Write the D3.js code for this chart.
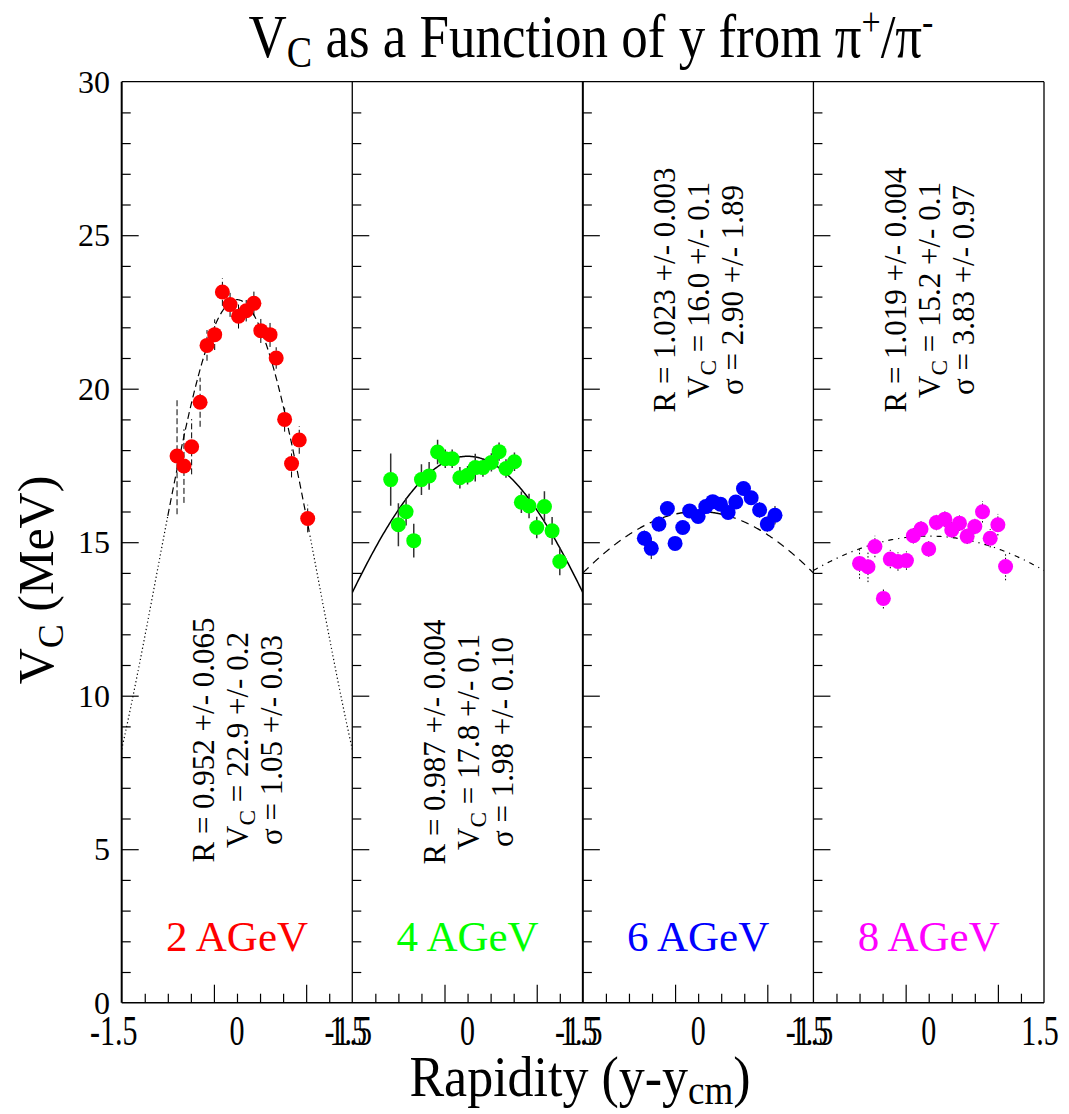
<!DOCTYPE html>
<html>
<head>
<meta charset="utf-8">
<script src="https://cdn.jsdelivr.net/npm/d3@7"></script>
<style>
  html, body { margin: 0; padding: 0; background: #fff; }
  svg { display: block; }
  text { font-family: "Liberation Serif", "Times New Roman", Times, serif; fill: #000; }
</style>
</head>
<body>
<script>
// Beam energies shown as panels
const energies = ["2 AGeV", "4 AGeV", "6 AGeV", "8 AGeV"];
const colors = ["#ff0000", "#00ff00", "#0000ff", "#ff00ff"];

// Coulomb potential vs rapidity, one set per energy
const rap2 = [-0.78, -0.69, -0.59, -0.48, -0.39, -0.29, -0.19, -0.09, 0.02, 0.12, 0.22, 0.31, 0.43, 0.51, 0.62, 0.71, 0.81, 0.92];
const vc2  = [17.81, 17.48, 18.11, 19.56, 21.41, 21.76, 23.15, 22.74, 22.36, 22.54, 22.78, 21.89, 21.76, 21.0, 19.0, 17.56, 18.33, 15.77];
const err2 = [1.9, 1.2, 0.9, 0.8, 0.5, 0.5, 0.45, 0.4, 0.4, 0.35, 0.4, 0.4, 0.4, 0.35, 0.4, 0.45, 0.45, 0.45];

const rap4 = [-1.0, -0.9, -0.8, -0.7, -0.6, -0.5, -0.39, -0.29, -0.2, -0.1, 0.0, 0.1, 0.2, 0.31, 0.41, 0.5, 0.61, 0.7, 0.8, 0.9, 1.0, 1.1, 1.2];
const vc4  = [17.04, 15.57, 15.99, 15.05, 17.04, 17.16, 17.94, 17.72, 17.72, 17.1, 17.18, 17.43, 17.43, 17.6, 17.95, 17.4, 17.62, 16.3, 16.18, 15.48, 16.16, 15.37, 14.37];
const err4 = [0.85, 0.7, 0.45, 0.55, 0.5, 0.45, 0.4, 0.3, 0.3, 0.35, 0.3, 0.45, 0.3, 0.3, 0.3, 0.3, 0.3, 0.35, 0.4, 0.35, 0.5, 0.45, 0.45];

const rap6 = [-0.7, -0.61, -0.51, -0.4, -0.3, -0.2, -0.11, 0.0, 0.1, 0.19, 0.29, 0.39, 0.49, 0.59, 0.69, 0.8, 0.9, 1.0];
const vc6  = [15.13, 14.8, 15.59, 16.1, 14.96, 15.48, 16.02, 15.84, 16.16, 16.32, 16.24, 15.97, 16.31, 16.75, 16.45, 16.05, 15.59, 15.88];
const err6 = [0.25, 0.35, 0.25, 0.2, 0.2, 0.2, 0.2, 0.2, 0.2, 0.2, 0.2, 0.2, 0.2, 0.2, 0.2, 0.25, 0.25, 0.3];

const rap8 = [-0.9, -0.79, -0.7, -0.59, -0.5, -0.4, -0.29, -0.2, -0.1, 0.0, 0.1, 0.21, 0.3, 0.4, 0.5, 0.6, 0.7, 0.8, 0.9, 1.0];
const vc8  = [14.31, 14.2, 14.86, 13.17, 14.45, 14.37, 14.4, 15.21, 15.43, 14.78, 15.64, 15.75, 15.4, 15.62, 15.19, 15.51, 15.99, 15.13, 15.57, 14.21];
const err8 = [0.5, 0.5, 0.35, 0.33, 0.3, 0.3, 0.3, 0.25, 0.25, 0.25, 0.25, 0.25, 0.25, 0.25, 0.25, 0.25, 0.35, 0.3, 0.35, 0.45];

// Gaussian fit results: R, V_C, sigma with uncertainties
const fitR       = ["0.952", "0.987", "1.023", "1.019"];
const fitRErr    = ["0.065", "0.004", "0.003", "0.004"];
const fitVc      = [22.9, 17.8, 16.0, 15.2];
const fitVcErr   = ["0.2", "0.1", "0.1", "0.1"];
const fitSigma   = [1.05, 1.98, 2.90, 3.83];
const fitSigErr  = ["0.03", "0.10", "1.89", "0.97"];
const fitVcText  = ["22.9", "17.8", "16.0", "15.2"];
const fitSigText = ["1.05", "1.98", "2.90", "3.83"];

// Axis ticks
const yLabelTicks = [0, 5, 10, 15, 20, 25, 30];
const yMinorTicks = d3.range(0, 30, 1);
const xShortTicks = [-1.2, -0.9, -0.6, 0, 0.3, 0.6, 1.2];
const xLongTicks = [-0.3, 0.9];
const xLabelValues = [-1.5, 0, 1.5];

const series = [
  { x: rap2, y: vc2, e: err2 },
  { x: rap4, y: vc4, e: err4 },
  { x: rap6, y: vc6, e: err6 },
  { x: rap8, y: vc8, e: err8 }
];

const W = 1069, H = 1114;
const X0 = 121.7, X1 = 1044, Y0 = 81.7, Y1 = 1002.7;
const panelW = (X1 - X0) / 4;

const svg = d3.select("body").append("svg").attr("width", W).attr("height", H);

const yScale = d3.scaleLinear().domain([0, 30]).range([Y1, Y0]);
const xScales = energies.map((_, i) =>
  d3.scaleLinear().domain([-1.5, 1.5]).range([X0 + i * panelW, X0 + (i + 1) * panelW]));

// Per-panel error bar styles
const errStyle = [
  { stroke: "#000", dash: "6,3", width: 1 },
  { stroke: "#333", dash: null, width: 1.5 },
  { stroke: "#000", dash: null, width: 1 },
  { stroke: "#000", dash: "1.5,2", width: 1 }
];

const defs = svg.append("defs");
xScales.forEach((xs, i) => {
  defs.append("clipPath").attr("id", "clip" + i)
    .append("rect").attr("x", xs.range()[0]).attr("y", Y0)
    .attr("width", panelW).attr("height", Y1 - Y0);
});

const gauss = (i) => (y) => fitVc[i] * Math.exp(-y * y / (2 * fitSigma[i] * fitSigma[i]));

function curveSegment(g, i, lo, hi, dash, width) {
  const xs = xScales[i];
  const f = gauss(i);
  const pts = d3.range(lo, hi + 1e-9, (hi - lo) / 200).map(v => [v, f(v)]);
  g.append("path")
    .attr("d", d3.line().x(d => xs(d[0])).y(d => yScale(d[1]))(pts))
    .attr("fill", "none").attr("stroke", "#000")
    .attr("stroke-width", width)
    .attr("stroke-dasharray", dash);
}

xScales.forEach((xs, i) => {
  const g = svg.append("g").attr("clip-path", `url(#clip${i})`);
  const s = series[i];

  // fit curve
  if (i === 0) {
    curveSegment(g, i, -1.5, -0.9, "1.2,2.6", 1.2);
    curveSegment(g, i, -0.9, 0.95, "7,4", 1.2);
    curveSegment(g, i, 0.95, 1.5, "1.2,2.6", 1.2);
  } else if (i === 1) {
    curveSegment(g, i, -1.5, 1.5, null, 1.5);
  } else if (i === 2) {
    curveSegment(g, i, -1.5, -0.28, "8,6", 1.2);
    curveSegment(g, i, -0.28, 0.39, null, 1.5);
    curveSegment(g, i, 0.39, 1.5, "8,6", 1.2);
  } else {
    curveSegment(g, i, -1.5, 1.5, "5,5,1.2,5", 1.2);
  }

  // error bars
  const es = errStyle[i];
  g.selectAll("line.err").data(s.x).enter().append("line")
    .attr("class", "err")
    .attr("x1", (d) => xs(d)).attr("x2", (d) => xs(d))
    .attr("y1", (d, k) => yScale(s.y[k] - s.e[k]))
    .attr("y2", (d, k) => yScale(s.y[k] + s.e[k]))
    .attr("stroke", es.stroke).attr("stroke-width", es.width)
    .attr("stroke-dasharray", es.dash);

  // markers
  g.selectAll("circle").data(s.x).enter().append("circle")
    .attr("cx", (d) => xs(d))
    .attr("cy", (d, k) => yScale(s.y[k]))
    .attr("r", 7.5)
    .attr("fill", colors[i]);
});

// Frame and panel separators
const frame = svg.append("g");
frame.append("line").attr("x1", X0).attr("x2", X1).attr("y1", Y0).attr("y2", Y0)
  .attr("stroke", "#000").attr("stroke-width", 1.2);
frame.append("line").attr("x1", X0).attr("x2", X1).attr("y1", Y1).attr("y2", Y1)
  .attr("stroke", "#000").attr("stroke-width", 1.5);
[0, 1, 2, 3, 4].forEach(k => {
  const x = X0 + k * panelW;
  frame.append("line").attr("x1", x).attr("x2", x).attr("y1", Y0).attr("y2", Y1)
    .attr("stroke", "#000").attr("stroke-width", (k === 0 || k === 2) ? 2 : 1.3);
});

// Ticks on each panel
xScales.forEach((xs, i) => {
  const left = xs.range()[0];
  const yMinor = svg.append("g").attr("transform", `translate(${left},0)`)
    .call(d3.axisRight(yScale).tickValues(yMinorTicks.filter(v => v % 5 !== 0)).tickSize(9).tickFormat(""));
  const yMajor = svg.append("g").attr("transform", `translate(${left},0)`)
    .call(d3.axisRight(yScale).tickValues([5, 10, 15, 20, 25]).tickSize(17).tickFormat(""));
  const xShort = svg.append("g").attr("transform", `translate(0,${Y1})`)
    .call(d3.axisTop(xs).tickValues(xShortTicks).tickSize(9).tickFormat(""));
  const xLong = svg.append("g").attr("transform", `translate(0,${Y1})`)
    .call(d3.axisTop(xs).tickValues(xLongTicks).tickSize(18).tickFormat(""));
  [yMinor, yMajor, xShort, xLong].forEach(a => {
    a.select(".domain").remove();
    a.selectAll(".tick line").attr("stroke", "#000").attr("stroke-width", 1.2);
  });

  // x tick labels (neighbouring panels share the edge, so labels stack there)
  xLabelValues.forEach(v => {
    const shift = v === 0 ? 0 : (v < 0 && i === 0 ? -8 : -4);
    svg.append("text")
      .attr("transform", `translate(${xs(v) + shift},${1045}) scale(1,1.4)`)
      .attr("text-anchor", "middle")
      .attr("font-size", 30)
      .text(v === 0 ? "0" : (v < 0 ? "-1.5" : "1.5"));
  });
});

// y tick labels
svg.append("g").selectAll("text").data(yLabelTicks).enter().append("text")
  .attr("x", 110).attr("y", d => yScale(d) + 11)
  .attr("text-anchor", "end").attr("font-size", 32)
  .text(d => d);

// Fit-result annotations (rotated)
const annotY = [740, 742, 290, 290];
xScales.forEach((xs, i) => {
  const cx = xs(0);
  const g = svg.append("g").attr("transform", `translate(${cx},${annotY[i]}) rotate(-90)`);
  const fs = 31;
  g.append("text").attr("x", 0).attr("y", -23).attr("text-anchor", "middle").attr("font-size", fs)
    .text(`R = ${fitR[i]} +/- ${fitRErr[i]}`);
  const t2 = g.append("text").attr("x", 0).attr("y", 11).attr("text-anchor", "middle").attr("font-size", fs);
  t2.append("tspan").text("V");
  t2.append("tspan").attr("font-size", fs * 0.75).attr("dy", 7).text("C");
  t2.append("tspan").attr("dy", -7).text(` = ${fitVcText[i]} +/- ${fitVcErr[i]}`);
  g.append("text").attr("x", 0).attr("y", 45).attr("text-anchor", "middle").attr("font-size", fs)
    .text(`σ = ${fitSigText[i]} +/- ${fitSigErr[i]}`);

  // energy label
  svg.append("text").attr("x", cx).attr("y", 951)
    .attr("text-anchor", "middle").attr("font-size", 43)
    .style("fill", colors[i])
    .text(energies[i]);
});

// Title
const title = svg.append("text")
  .attr("transform", "translate(591,57) scale(1,1.15)")
  .attr("text-anchor", "middle").attr("font-size", 53);
title.append("tspan").text("V");
title.append("tspan").attr("font-size", 38).attr("dy", 9).text("C");
title.append("tspan").attr("dy", -9).text(" as a Function of y from π");
title.append("tspan").attr("font-size", 34).attr("dy", -19).text("+");
title.append("tspan").attr("dy", 19).text("/π");
title.append("tspan").attr("font-size", 34).attr("dy", -19).text("-");

// x-axis title
const xt = svg.append("text")
  .attr("transform", "translate(580,1096) scale(1,1.1)")
  .attr("text-anchor", "middle").attr("font-size", 52);
xt.append("tspan").text("Rapidity (y-y");
xt.append("tspan").attr("font-size", 37).attr("dy", 7).text("cm");
xt.append("tspan").attr("dy", -7).text(")");

// y-axis title
const yt = svg.append("text")
  .attr("transform", "translate(53,580) rotate(-90)")
  .attr("text-anchor", "middle").attr("font-size", 50);
yt.append("tspan").text("V");
yt.append("tspan").attr("font-size", 36).attr("dy", 10).text("C");
yt.append("tspan").attr("dy", -10).text(" (MeV)");
</script>
</body>
</html>
